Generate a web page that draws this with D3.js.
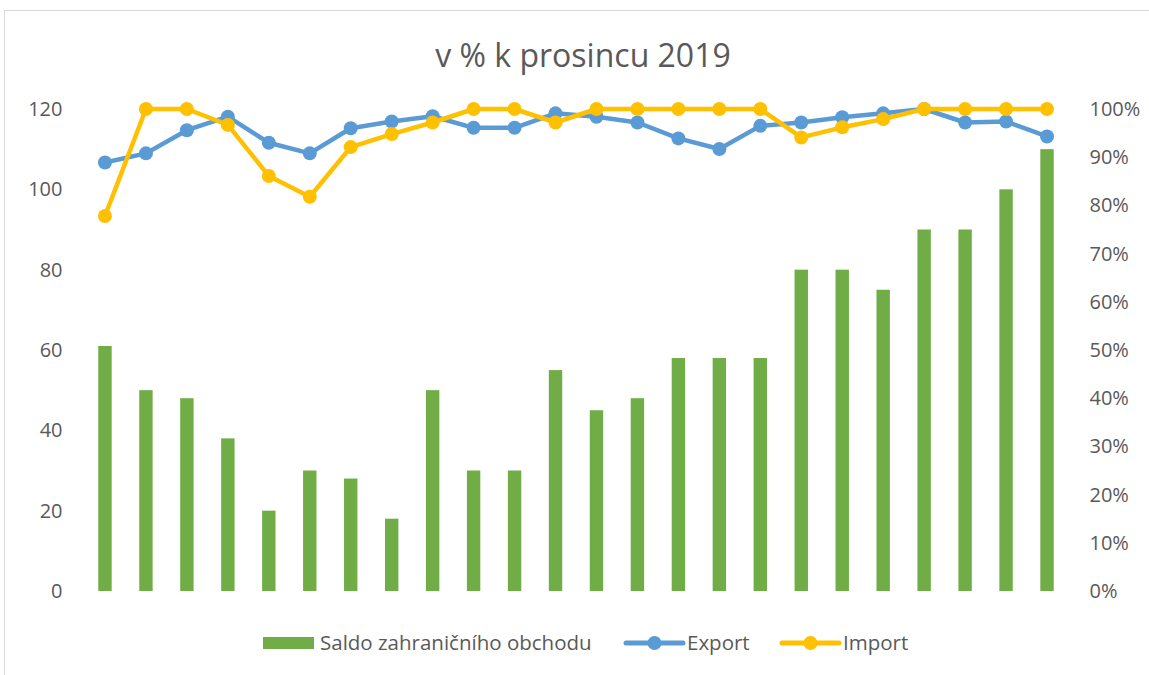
<!DOCTYPE html>
<html>
<head>
<meta charset="utf-8">
<script src="https://cdn.jsdelivr.net/npm/d3@7/dist/d3.min.js"></script>
<style>
  html, body { margin: 0; padding: 0; background: #fff; }
  svg { display: block; font-family: "Open Sans", Lato, sans-serif; }
</style>
</head>
<body>
<div id="chart"></div>
<script>
const categories = d3.range(1, 25).map((i) => 'M' + i);
const saldo = [61, 50, 48, 38, 20, 30, 28, 18, 50, 30, 30, 55, 45, 48, 58, 58, 58, 80, 80, 75, 90, 90, 100, 110];
const exportPct = [88.9, 90.8, 95.6, 98.4, 93.0, 90.8, 96.0, 97.4, 98.5, 96.1, 96.1, 99.1,
  98.4, 97.2, 93.9, 91.7, 96.5, 97.2, 98.3, 99.1, 100, 97.2, 97.4, 94.3];
const importPct = [77.8, 100, 100, 96.7, 86.1, 81.8, 92.1, 94.8, 97.2, 100, 100, 97.2,
  100, 100, 100, 100, 100, 94.1, 96.2, 97.9, 100, 100, 100, 100];
const leftTicks = [0, 20, 40, 60, 80, 100, 120];
const rightTicks = [0, 10, 20, 30, 40, 50, 60, 70, 80, 90, 100];

const width = 1149;
const height = 675;
const textColor = '#595959';
const green = '#70AD47';
const blue = '#5B9BD5';
const yellow = '#FFC000';
const font = '"Open Sans", Lato, sans-serif';

const plot = { left: 84.5, right: 1067.5, top: 109, bottom: 591 };

const svg = d3.select('#chart').append('svg')
  .attr('width', width)
  .attr('height', height);

// chart frame
svg.append('rect')
  .attr('x', 4.5).attr('y', 10.5)
  .attr('width', width + 10).attr('height', height + 10)
  .attr('fill', '#fff')
  .attr('stroke', '#d9d9d9');

svg.append('text')
  .attr('x', 583).attr('y', 67)
  .attr('text-anchor', 'middle')
  .attr('fill', textColor)
  .attr('font-size', '32px')
  .text('v % k prosincu 2019');

const x = d3.scaleBand().domain(categories).range([plot.left, plot.right]);
const yLeft = d3.scaleLinear().domain([0, 120]).range([plot.bottom, plot.top]);
const yRight = d3.scaleLinear().domain([0, 100]).range([plot.bottom, plot.top]);

const leftAxis = svg.append('g')
  .attr('transform', `translate(${plot.left - 22},0)`)
  .call(d3.axisLeft(yLeft).tickValues(leftTicks).tickSize(0).tickPadding(0));
leftAxis.select('.domain').remove();

const rightAxis = svg.append('g')
  .attr('transform', `translate(${plot.right + 22},0)`)
  .call(d3.axisRight(yRight).tickValues(rightTicks).tickSize(0).tickPadding(0)
    .tickFormat((d) => d + '%'));
rightAxis.select('.domain').remove();

svg.selectAll('.tick text')
  .attr('fill', textColor)
  .attr('font-size', '20px')
  .attr('font-family', font);

// bars
const barW = 13.4;
svg.append('g').selectAll('rect')
  .data(saldo)
  .join('rect')
  .attr('x', (d, i) => x(categories[i]) + x.bandwidth() / 2 - barW / 2)
  .attr('y', (d) => yLeft(d))
  .attr('width', barW)
  .attr('height', (d) => yLeft(0) - yLeft(d))
  .attr('fill', green);

function drawSeries(values, color) {
  const line = d3.line()
    .x((d, i) => x(categories[i]) + x.bandwidth() / 2)
    .y((d) => yRight(d));
  const g = svg.append('g');
  g.append('path')
    .datum(values)
    .attr('d', line)
    .attr('fill', 'none')
    .attr('stroke', color)
    .attr('stroke-width', 4.5)
    .attr('stroke-linejoin', 'round');
  g.selectAll('circle')
    .data(values)
    .join('circle')
    .attr('cx', (d, i) => x(categories[i]) + x.bandwidth() / 2)
    .attr('cy', (d) => yRight(d))
    .attr('r', 7)
    .attr('fill', color);
}

drawSeries(exportPct, blue);
drawSeries(importPct, yellow);

// legend
const legend = svg.append('g').attr('font-size', '20.5px').attr('fill', textColor);
const ly = 643;
legend.append('rect')
  .attr('x', 263).attr('y', ly - 6).attr('width', 51).attr('height', 12)
  .attr('fill', green);
legend.append('text').attr('x', 320).attr('y', ly + 7).text('Saldo zahraničního obchodu');

[[blue, 626, 'Export'], [yellow, 782, 'Import']].forEach(([c, lx, label]) => {
  legend.append('line')
    .attr('x1', lx).attr('x2', lx + 57)
    .attr('y1', ly).attr('y2', ly)
    .attr('stroke', c).attr('stroke-width', 5).attr('stroke-linecap', 'round');
  legend.append('circle').attr('cx', lx + 28.5).attr('cy', ly).attr('r', 7).attr('fill', c);
  legend.append('text').attr('x', lx + 61).attr('y', ly + 7).text(label);
});
</script>
</body>
</html>
